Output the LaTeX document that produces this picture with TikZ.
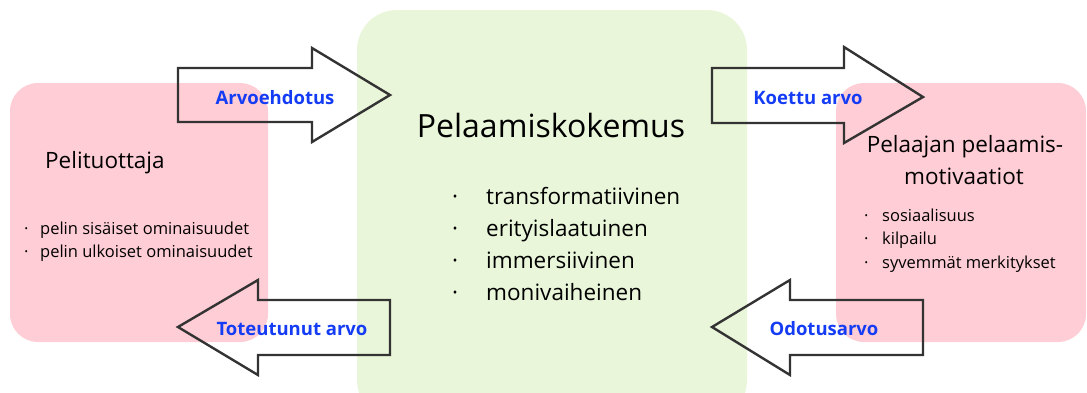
\documentclass[tikz,border=0pt]{standalone}
\usepackage{fontspec}
\setmainfont{Open Sans}
\definecolor{pinkbox}{RGB}{255,205,213}
\definecolor{greenbox}{RGB}{233,246,217}
\definecolor{arrowline}{RGB}{51,51,51}
\definecolor{labelblue}{RGB}{20,60,245}
\tikzset{
  bigarrow/.style={draw=arrowline, line width=2.4pt, line join=miter, fill=none},
  txt/.style={inner sep=0pt, anchor=base},
  arrowlabel/.style={txt, text=labelblue, font=\fontsize{18.5}{22}\selectfont\bfseries},
  heading/.style={txt, font=\fontsize{22.5}{27}\selectfont},
  smallitem/.style={txt, font=\fontsize{16.5}{20}\selectfont, anchor=base west},
  biglist/.style={txt, font=\fontsize{22.5}{27}\selectfont, anchor=base west},
}
\begin{document}
\begin{tikzpicture}[x=1pt,y=-1pt]
\useasboundingbox (0,0) rectangle (1087,392);
\clip (0,0) rectangle (1087,392);
% panels
\fill[pinkbox, rounded corners=28pt] (10,83) rectangle (268,342);
\fill[pinkbox, rounded corners=28pt] (836,83) rectangle (1086,342);
\fill[greenbox, rounded corners=40pt] (357,10) rectangle (747,420);
% arrows
\draw[bigarrow] (178,68) -- (312,68) -- (312,48) -- (390,95) -- (312,142) -- (312,122) -- (178,122) -- cycle;
\draw[bigarrow] (390,300) -- (258,300) -- (258,280) -- (178,327) -- (258,375) -- (258,355) -- (390,355) -- cycle;
\draw[bigarrow] (712,68) -- (844,68) -- (844,47) -- (923,97) -- (844,143) -- (844,123) -- (712,123) -- cycle;
\draw[bigarrow] (923,300) -- (790,300) -- (790,280) -- (712,327) -- (790,375) -- (790,355) -- (923,355) -- cycle;
% arrow labels
\node[arrowlabel] (arvo) at (275,104) {Arvoehdotus};
\node[arrowlabel] (toteu) at (292,335) {Toteutunut arvo};
\node[arrowlabel] (koettu) at (808,104) {Koettu arvo};
\node[arrowlabel] (odotus) at (824,335) {Odotusarvo};
% centre
\node[txt, font=\fontsize{32}{38}\selectfont] (kokemus) at (551,137) {Pelaamiskokemus};
\node[biglist] (cb1) at (452,204) {·};
\node[biglist] (cb2) at (452,236) {·};
\node[biglist] (cb3) at (452,268) {·};
\node[biglist] (cb4) at (452,300) {·};
\node[biglist] (c1) at (486,204) {transformatiivinen};
\node[biglist] (c2) at (486,236) {erityislaatuinen};
\node[biglist] (c3) at (486,268) {immersiivinen};
\node[biglist] (c4) at (486,300) {monivaiheinen};
% left
\node[heading, anchor=base west] (tuottaja) at (45,168) {Pelituottaja};
\node[smallitem] (lb1) at (24,234) {·};
\node[smallitem] (lb2) at (24,257) {·};
\node[smallitem] (l1) at (40,234) {pelin sisäiset ominaisuudet};
\node[smallitem] (l2) at (40,257) {pelin ulkoiset ominaisuudet};
% right
\node[heading] (motiv1) at (965,152) {Pelaajan pelaamis-};
\node[heading] (motiv2) at (964,184) {motivaatiot};
\node[smallitem] (rb1) at (864,221) {·};
\node[smallitem] (rb2) at (864,244) {·};
\node[smallitem] (rb3) at (864,268) {·};
\node[smallitem] (r1) at (882,221) {sosiaalisuus};
\node[smallitem] (r2) at (882,244) {kilpailu};
\node[smallitem] (r3) at (882,268) {syvemmät merkitykset};
\end{tikzpicture}
\end{document}
